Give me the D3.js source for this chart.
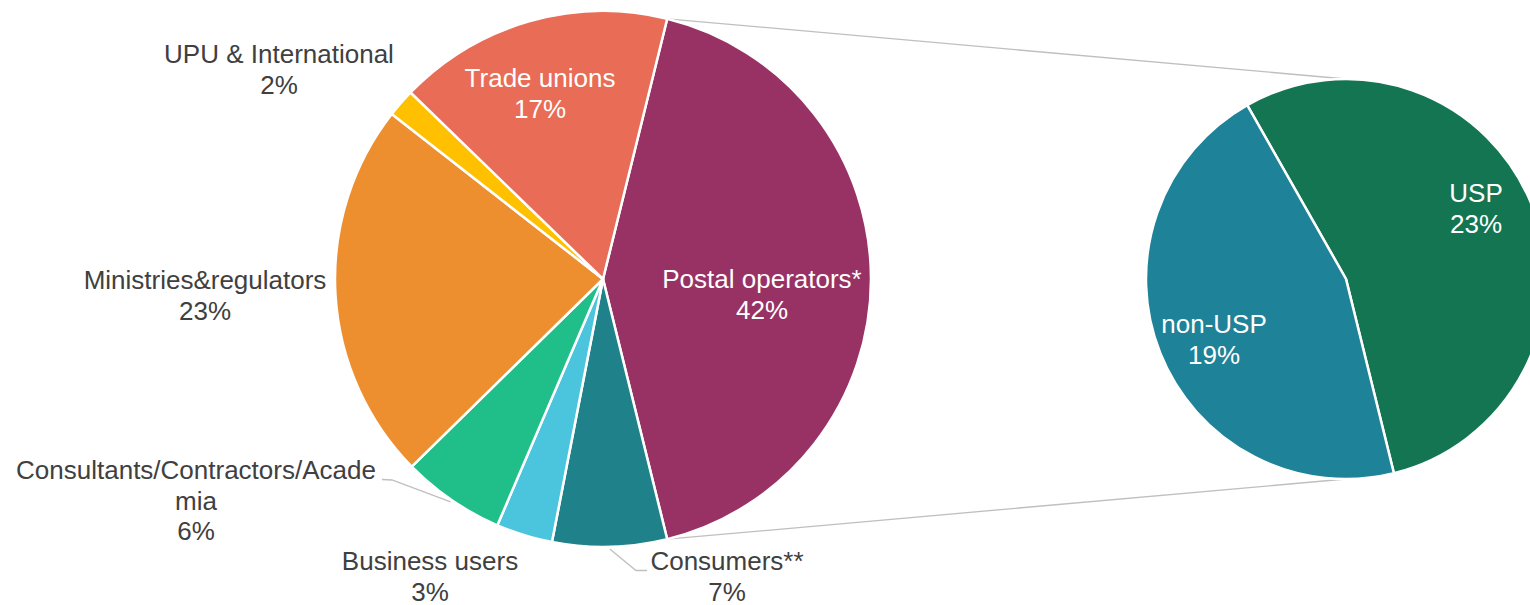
<!DOCTYPE html>
<html>
<head>
<meta charset="utf-8">
<script src="https://cdn.jsdelivr.net/npm/d3@7"></script>
<style>
  html, body { margin: 0; padding: 0; background: #ffffff; }
  svg { display: block; }
  text { font-family: "Liberation Sans", Arial, sans-serif; }
</style>
</head>
<body>
<svg id="chart" width="1530" height="605"></svg>
<script>
// Respondent groups (main pie), clockwise starting with the split slice
const categories = ["Postal operators*", "Consumers**", "Business users",
  "Consultants/Contractors/Academia", "Ministries&regulators",
  "UPU & International", "Trade unions"];
const shares = [42.3, 6.9, 3.4, 6.2, 22.9, 1.7, 16.6];

// Breakdown of the postal operators slice (secondary pie)
const subCategories = ["USP", "non-USP"];
const subShares = [23.0, 19.3];

// Text lines drawn for each label (the long one wraps as in the source)
const labelLines = [
  ["Postal operators*"], ["Consumers**"], ["Business users"],
  ["Consultants/Contractors/Acade", "mia"], ["Ministries&regulators"],
  ["UPU & International"], ["Trade unions"]
];
const subLabelLines = [["USP"], ["non-USP"]];

const colors = ["#983264", "#1F8189", "#4BC5DD", "#20BF89", "#EE8F2F", "#FFC000", "#E86C56"];
const subColors = ["#147553", "#1E8298"];

// ---- layout ----
const svg = d3.select("#chart");
const main = { cx: 603, cy: 279, r: 268 };
const sub = { cx: 1346, cy: 279, r: 200 };
const fontSize = 26, lineH = 30.5;
const textDark = "#404040";

// label anchors: centre x, baseline of first line, inside (white) or outside
const labelPos = [
  { x: 762, y: 288, inside: true },
  { x: 727, y: 570, leader: [[636, 570.5], [647, 570.5]] },
  { x: 430, y: 570 },
  { x: 196, y: 479, leader: [[392, 480], [382, 479.5]] },
  { x: 205, y: 289 },
  { x: 279, y: 63 },
  { x: 540, y: 87, inside: true }
];
const subLabelPos = [
  { x: 1476, y: 202 },
  { x: 1214, y: 333 }
];

const total = d3.sum(shares);
const pct = v => Math.round(v / total * 100) + "%";

// Main pie: split slice centred on the right-hand side
const splitSpan = shares[0] / total * 2 * Math.PI;
const mainStart = Math.PI / 2 - splitSpan / 2;
const pie = d3.pie().sort(null).value(d => d)
  .startAngle(mainStart).endAngle(mainStart + 2 * Math.PI);
const arcs = pie(shares);

// Secondary pie: first slice ends at the split slice's lower edge
const subTotal = d3.sum(subShares);
const subFirstSpan = subShares[0] / subTotal * 2 * Math.PI;
const subStart = arcs[0].endAngle - subFirstSpan;
const subPie = d3.pie().sort(null).value(d => d)
  .startAngle(subStart).endAngle(subStart + 2 * Math.PI);
const subArcs = subPie(subShares);

const polar = (c, a, r) => [c.cx + r * Math.sin(a), c.cy - r * Math.cos(a)];

// connector lines between the split slice and the secondary pie
const connectors = [
  [polar(main, arcs[0].startAngle, main.r), polar(sub, 0, sub.r)],
  [polar(main, arcs[0].endAngle, main.r), polar(sub, Math.PI, sub.r)]
];
svg.append("g").selectAll("line").data(connectors).join("line")
  .attr("x1", d => d[0][0]).attr("y1", d => d[0][1])
  .attr("x2", d => d[1][0]).attr("y2", d => d[1][1])
  .attr("stroke", "#BFBFBF").attr("stroke-width", 1.3);

// main pie
const arc = d3.arc().innerRadius(0).outerRadius(main.r);
svg.append("g").attr("transform", `translate(${main.cx},${main.cy})`)
  .selectAll("path").data(arcs).join("path")
  .attr("d", arc)
  .attr("fill", (d, i) => colors[i])
  .attr("stroke", "#ffffff").attr("stroke-width", 2.5).attr("stroke-linejoin", "round");

// secondary pie
const subArc = d3.arc().innerRadius(0).outerRadius(sub.r);
svg.append("g").attr("transform", `translate(${sub.cx},${sub.cy})`)
  .selectAll("path").data(subArcs).join("path")
  .attr("d", subArc)
  .attr("fill", (d, i) => subColors[i])
  .attr("stroke", "#ffffff").attr("stroke-width", 2.5).attr("stroke-linejoin", "round");

// leader lines from slice edge to outside labels
arcs.forEach((a, i) => {
  const lp = labelPos[i];
  if (!lp.leader) return;
  const mid = (a.startAngle + a.endAngle) / 2;
  const start = polar(main, mid, main.r + 2);
  const pts = [start, ...lp.leader];
  svg.append("path")
    .attr("d", d3.line()(pts))
    .attr("fill", "none").attr("stroke", "#BFBFBF").attr("stroke-width", 1.3);
});

// labels
function drawLabel(lines, value, pos, fill) {
  const t = svg.append("text")
    .attr("text-anchor", "middle")
    .attr("font-size", fontSize)
    .attr("fill", fill);
  [...lines, value].forEach((s, k) => {
    t.append("tspan").attr("x", pos.x).attr("y", pos.y + k * lineH).text(s);
  });
}
arcs.forEach((a, i) => {
  drawLabel(labelLines[i], pct(shares[i]), labelPos[i], labelPos[i].inside ? "#ffffff" : textDark);
});
subArcs.forEach((a, i) => {
  drawLabel(subLabelLines[i], pct(subShares[i]), subLabelPos[i], "#ffffff");
});
</script>
</body>
</html>
